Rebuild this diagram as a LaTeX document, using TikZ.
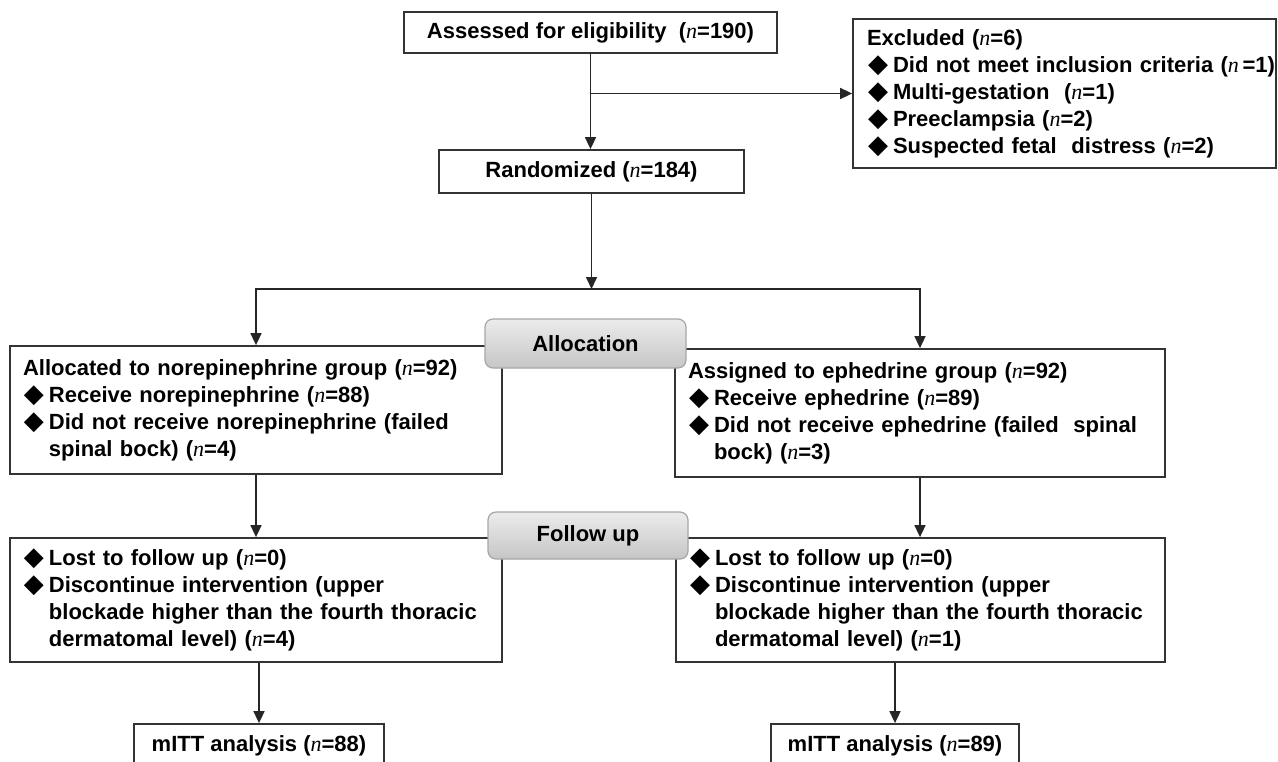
\documentclass[tikz,border=0pt]{standalone}
\usepackage{fontspec}
\setmainfont{Liberation Sans}
\newfontfamily\serifit{Liberation Serif}
\newfontfamily\symbfont{DejaVu Sans}
\usetikzlibrary{arrows.meta,positioning}
\newcommand{\enn}{{\serifit\mdseries\itshape n}}
\newcommand{\dmd}{\makebox[13pt][l]{\hspace{0.5pt}{\symbfont\fontsize{13}{13}\selectfont ◆}}}
\newcommand{\indnt}{\hspace*{13pt}}

\begin{document}
\begin{tikzpicture}[
    x=0.5pt,y=-0.5pt,
    >={Triangle[length=6pt,width=5.5pt]},
    font=\fontsize{11}{13.5}\selectfont\bfseries,
    box/.style={
      rectangle,draw=black!80,line width=0.9pt,fill=white,
      inner sep=0pt,align=center
    },
    listbox/.style={box,align=left,inner xsep=6.5pt},
    stage/.style={
      rectangle,rounded corners=4pt,draw=gray!70,line width=0.6pt,
      top color=gray!15,bottom color=gray!45,inner sep=0pt
    },
    flow/.style={->,line width=0.8pt,color=black!85}
  ]
    \useasboundingbox (0,0) rectangle (1278,761);

    \node[box,minimum width=186.5pt,minimum height=20.5pt] (assess) at (590.5,32.5) {Assessed for eligibility~ (\enn=190)};
    \node[listbox,text width=197.5pt,minimum height=74.5pt,inner xsep=7pt] (excl) at (1064.5,93.5)
      {Excluded (\enn=6)\\
       \dmd\mbox{Did not meet inclusion criteria (\enn\,=1)}\\
       \dmd Multi-gestation~ (\enn=1)\\
       \dmd Preeclampsia (\enn=2)\\
       \dmd Suspected fetal~ distress (\enn=2)};
    \node[box,minimum width=152.5pt,minimum height=21.5pt] (rand) at (591.5,171.5) {Randomized (\enn=184)};

    \node[listbox,text width=233pt,minimum height=64pt] (leftA) at (256,410)
      {Allocated to norepinephrine group (\enn=92)\\
       \dmd Receive norepinephrine (\enn=88)\\
       \dmd Did not receive norepinephrine (failed\\
       \indnt spinal bock) (\enn=4)};
    \node[listbox,text width=232pt,minimum height=64pt] (rightA) at (920,413)
      {Assigned to ephedrine group (\enn=92)\\
       \dmd Receive ephedrine (\enn=89)\\
       \dmd Did not receive ephedrine (failed~ spinal\\
       \indnt bock) (\enn=3)};
    \node[stage,minimum width=100.5pt,minimum height=24.5pt] (alloc) at (585.5,343.5) {Allocation};

    \node[listbox,text width=233pt,minimum height=62pt] (leftF) at (256,600)
      {\dmd Lost to follow up (\enn=0)\\
       \dmd Discontinue intervention (upper\\
       \indnt blockade higher than the fourth thoracic\\
       \indnt dermatomal level) (\enn=4)};
    \node[listbox,text width=231.5pt,minimum height=62pt] (rightF) at (920.5,600)
      {\dmd Lost to follow up (\enn=0)\\
       \dmd Discontinue intervention (upper\\
       \indnt blockade higher than the fourth thoracic\\
       \indnt dermatomal level) (\enn=1)};
    \node[stage,minimum width=100pt,minimum height=23.5pt] (follow) at (588,535.5) {Follow up};

    \node[box,minimum width=125pt,minimum height=22pt] (mittL) at (259,746) {mITT analysis (\enn=88)};
    \node[box,minimum width=124pt,minimum height=22pt] (mittR) at (895,746) {mITT analysis (\enn=89)};

    \coordinate (split) at (591,289);

    \draw[flow] (assess.south) -- (assess.south |- rand.north);
    \draw[flow] (assess.south |- excl.west) -- (excl.west);
    \draw[flow] (rand.south) -- (rand.south |- split);
    \draw[flow] (split) -| (leftA.north);
    \draw[flow] (split) -| (rightA.north);
    \draw[flow] (leftA.south) -- (leftA.south |- leftF.north);
    \draw[flow] (rightA.south) -- (rightA.south |- rightF.north);
    \draw[flow] (mittL.north |- leftF.south) -- (mittL.north);
    \draw[flow] (mittR.north |- rightF.south) -- (mittR.north);
  \end{tikzpicture}
\end{document}
